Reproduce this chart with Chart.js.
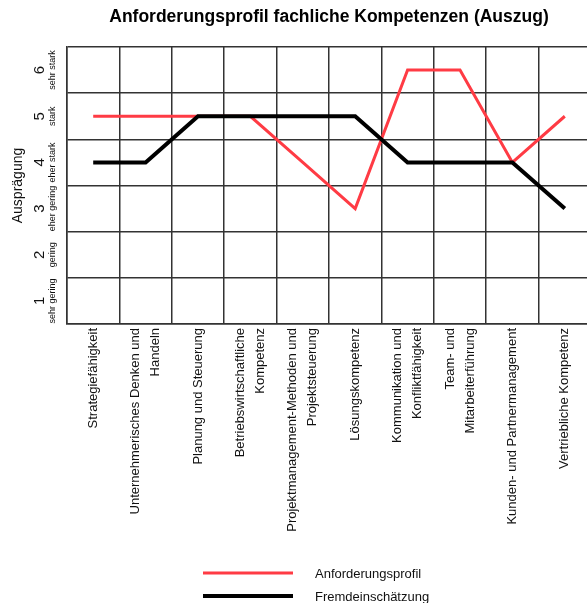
<!DOCTYPE html>
<html>
<head>
<meta charset="utf-8">
<script src="https://cdn.jsdelivr.net/npm/chart.js@4/dist/chart.umd.min.js"></script>
<style>
  html, body { margin: 0; padding: 0; background: #fff; overflow: hidden; }
  #wrap { width: 591px; height: 603px; }
</style>
</head>
<body>
<div id="wrap"><canvas id="profil"></canvas></div>
<script>
// kategorien (zweizeilig wo noetig)
const kompetenzen = [
  "Strategiefähigkeit",
  ["Unternehmerisches Denken und", "Handeln"],
  "Planung und Steuerung",
  ["Betriebswirtschaftliche", "Kompetenz"],
  ["Projektmanagement-Methoden und", "Projektsteuerung"],
  "Lösungskompetenz",
  ["Kommunikation und", "Konfliktfähigkeit"],
  ["Team- und", "Mitarbeiterführung"],
  "Kunden- und Partnermanagement",
  "Vertriebliche Kompetenz"
];
const anforderungsprofil = [5, 5, 5, 5, 4, 3, 6, 6, 4, 5];
const fremdeinschaetzung = [4, 4, 5, 5, 5, 5, 4, 4, 4, 3];
const stufen = [1, 2, 3, 4, 5, 6];
const stufenText = ["sehr gering", "gering", "eher gering", "eher stark", "stark", "sehr stark"];

const schrift = "'Liberation Sans', Arial, sans-serif";
const rot = "#ff3b44";
const gitter = "#333";

// zahlen + beschreibung an der y-achse, gedreht
const yBeschriftung = {
  id: "yBeschriftung",
  afterDraw(chart) {
    const ctx = chart.ctx;
    const y = chart.scales.y;
    ctx.save();
    ctx.fillStyle = "#111";
    ctx.textAlign = "center";
    ctx.textBaseline = "middle";
    for (let i = 0; i < stufen.length; i++) {
      const py = y.getPixelForValue(stufen[i]);
      ctx.save();
      ctx.translate(40, py);
      ctx.rotate(-Math.PI / 2);
      ctx.font = "15px " + schrift;
      ctx.fillText(String(stufen[i]), 0, 0);
      ctx.restore();
      ctx.save();
      ctx.translate(53, py);
      ctx.rotate(-Math.PI / 2);
      ctx.font = "9px " + schrift;
      ctx.fillText(stufenText[i], 0, 0);
      ctx.restore();
    }
    ctx.restore();
  }
};

// x-beschriftung: mehrzeilige labels um die mitte der kategorie
const xBeschriftung = {
  id: "xBeschriftung",
  afterDraw(chart) {
    const ctx = chart.ctx;
    const x = chart.scales.x;
    const lh = 20;
    ctx.save();
    ctx.fillStyle = "#111";
    ctx.font = "13px " + schrift;
    ctx.textAlign = "right";
    ctx.textBaseline = "middle";
    for (let i = 0; i < kompetenzen.length; i++) {
      const zeilen = [].concat(kompetenzen[i]);
      const px = x.getPixelForValue(i);
      for (let j = 0; j < zeilen.length; j++) {
        ctx.save();
        ctx.translate(px + (j - (zeilen.length - 1) / 2) * lh, x.top + 4);
        ctx.rotate(-Math.PI / 2);
        ctx.fillText(zeilen[j], 0, 0);
        ctx.restore();
      }
    }
    ctx.restore();
  }
};

// legende untereinander
const legende = {
  id: "legende",
  afterDraw(chart) {
    const ctx = chart.ctx;
    const sets = chart.data.datasets;
    ctx.save();
    ctx.font = "13px " + schrift;
    ctx.textBaseline = "middle";
    ctx.textAlign = "left";
    for (let i = 0; i < sets.length; i++) {
      const ly = 573 + i * 23;
      ctx.strokeStyle = sets[i].borderColor;
      ctx.lineWidth = sets[i].borderWidth;
      ctx.beginPath();
      ctx.moveTo(203, ly);
      ctx.lineTo(293, ly);
      ctx.stroke();
      ctx.fillStyle = "#111";
      ctx.fillText(sets[i].label, 315, ly + 1);
    }
    ctx.restore();
  }
};

new Chart(document.getElementById("profil"), {
  type: "line",
  data: {
    labels: kompetenzen,
    datasets: [{
      label: "Anforderungsprofil",
      data: anforderungsprofil,
      borderColor: rot,
      borderWidth: 3,
      order: 1
    }, {
      label: "Fremdeinschätzung",
      data: fremdeinschaetzung,
      borderColor: "#000",
      borderWidth: 4,
      order: 0
    }]
  },
  options: {
    responsive: true,
    maintainAspectRatio: false,
    animation: false,
    layout: { padding: { left: 0, right: 0, top: 0, bottom: 59 } },
    elements: {
      line: { tension: 0, borderCapStyle: "butt", borderJoinStyle: "miter" },
      point: { radius: 0 }
    },
    plugins: {
      legend: { display: false },
      tooltip: { enabled: false },
      title: {
        display: true,
        fullSize: false,
        text: "Anforderungsprofil fachliche Kompetenzen (Auszug)",
        color: "#000",
        font: { family: schrift, size: 17.5, weight: "bold" },
        padding: { top: 7, bottom: 19 }
      }
    },
    scales: {
      x: {
        type: "category",
        offset: true,
        grid: { offset: true, color: gitter, lineWidth: 1.5, drawTicks: false },
        border: { color: gitter, width: 1.5 },
        ticks: { display: false },
        afterFit(scale) { scale.height = 220; }
      },
      y: {
        min: 0.5,
        max: 6.5,
        afterBuildTicks(scale) {
          scale.ticks = stufen.map(v => ({ value: v }));
        },
        grid: { offset: true, color: gitter, lineWidth: 1.5, drawTicks: false },
        border: { color: gitter, width: 1.5 },
        ticks: { display: false },
        title: {
          display: true,
          text: "Ausprägung",
          color: "#111",
          font: { family: schrift, size: 14 },
          padding: { top: 10, bottom: 0 }
        },
        afterFit(scale) { scale.width = 67; }
      }
    }
  },
  plugins: [yBeschriftung, xBeschriftung, legende]
});
</script>
</body>
</html>
